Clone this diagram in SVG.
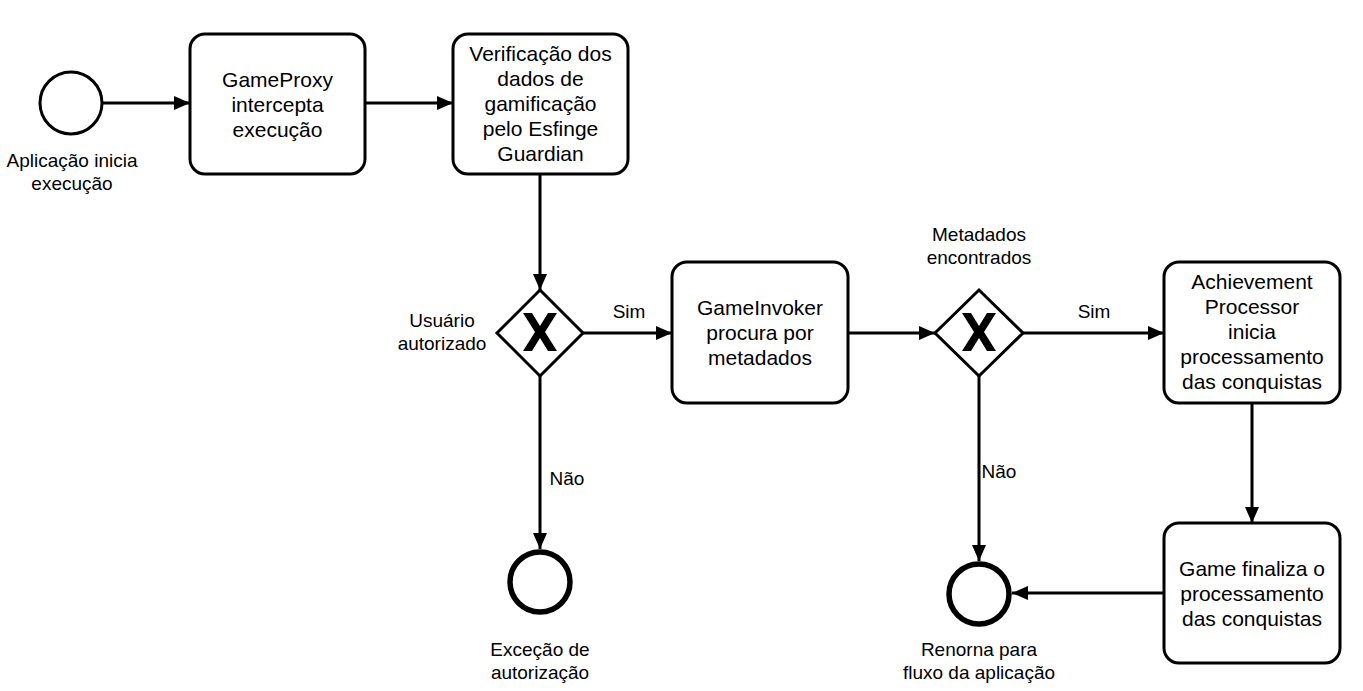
<svg xmlns="http://www.w3.org/2000/svg" width="1363" height="691" viewBox="0 0 1363 691">
<style>
.task{fill:#fff;stroke:#000;stroke-width:3}
.start{fill:#fff;stroke:#000;stroke-width:3}
.end{fill:#fff;stroke:#000;stroke-width:5.5}
.gw{fill:#fff;stroke:#000;stroke-width:3}
.edge{fill:none;stroke:#000;stroke-width:3}
.t{font-family:"Liberation Sans",Arial,sans-serif;font-size:21px;fill:#000;text-anchor:middle}
.l{font-family:"Liberation Sans",Arial,sans-serif;font-size:19px;fill:#000;text-anchor:middle}
</style>
<defs>
<marker id="arr" viewBox="0 0 16 14" refX="16" refY="7" markerWidth="16" markerHeight="14" markerUnits="userSpaceOnUse" orient="auto">
<path d="M0,0 L16,7 L0,14 Z" fill="#000"/>
</marker>
<path id="xmark" d="M-17,-19 L-8,-19 L0,-6 L8,-19 L17,-19 L5,0 L17,19 L8,19 L0,6 L-8,19 L-17,19 L-5,0 Z" fill="#000"/>
</defs>
<g id="connectors">
<path class="edge" d="M103,103 L190,103" marker-end="url(#arr)"/>
<path class="edge" d="M365,103 L453,103" marker-end="url(#arr)"/>
<path class="edge" d="M540,174 L540,290" marker-end="url(#arr)"/>
<path class="edge" d="M583,333 L672,333" marker-end="url(#arr)"/>
<path class="edge" d="M540,376 L540,549" marker-end="url(#arr)"/>
<path class="edge" d="M848,333 L935,333" marker-end="url(#arr)"/>
<path class="edge" d="M1023,333 L1164,333" marker-end="url(#arr)"/>
<path class="edge" d="M979,376 L979,561" marker-end="url(#arr)"/>
<path class="edge" d="M1252,403 L1252,523" marker-end="url(#arr)"/>
<path class="edge" d="M1164,593 L1012,593" marker-end="url(#arr)"/>
<text class="l" x="629" y="318">Sim</text>
<text class="l" x="567" y="485">Não</text>
<text class="l" x="1094" y="318">Sim</text>
<text class="l" x="999" y="478">Não</text>
</g>
<g id="start">
<circle class="start" cx="71" cy="103" r="31"/>
<text class="l" x="72" y="167">Aplicação inicia</text>
<text class="l" x="72" y="190">execução</text>
</g>
<g id="task1">
<rect class="task" x="190" y="34" width="175" height="140" rx="15"/>
<text class="t" x="277.5" y="86.5">GameProxy</text>
<text class="t" x="277.5" y="111.5">intercepta</text>
<text class="t" x="277.5" y="136.5">execução</text>
</g>
<g id="task2">
<rect class="task" x="453" y="34" width="175" height="140" rx="15"/>
<text class="t" x="540.5" y="60.5">Verificação dos</text>
<text class="t" x="540.5" y="85.5">dados de</text>
<text class="t" x="540.5" y="110.5">gamificação</text>
<text class="t" x="540.5" y="135.5">pelo Esfinge</text>
<text class="t" x="540.5" y="160.5">Guardian</text>
</g>
<g id="gateway1">
<path class="gw" d="M540,290 L583,333 L540,376 L497,333 Z"/>
<use href="#xmark" x="540" y="332"/>
<text class="l" x="442" y="327">Usuário</text>
<text class="l" x="442" y="350">autorizado</text>
</g>
<g id="end1">
<circle class="end" cx="540" cy="582" r="30"/>
<text class="l" x="540" y="656">Exceção de</text>
<text class="l" x="540" y="679">autorização</text>
</g>
<g id="task3">
<rect class="task" x="672" y="262" width="176" height="141" rx="15"/>
<text class="t" x="760" y="315">GameInvoker</text>
<text class="t" x="760" y="340">procura por</text>
<text class="t" x="760" y="365">metadados</text>
</g>
<g id="gateway2">
<path class="gw" d="M979,290 L1023,333 L979,376 L935,333 Z"/>
<use href="#xmark" x="979" y="332"/>
<text class="l" x="979" y="241">Metadados</text>
<text class="l" x="979" y="264">encontrados</text>
</g>
<g id="task4">
<rect class="task" x="1164" y="262" width="176" height="141" rx="15"/>
<text class="t" x="1252" y="288.5">Achievement</text>
<text class="t" x="1252" y="313.5">Processor</text>
<text class="t" x="1252" y="338.5">inicia</text>
<text class="t" x="1252" y="363.5">processamento</text>
<text class="t" x="1252" y="388.5">das conquistas</text>
</g>
<g id="task5">
<rect class="task" x="1164" y="523" width="176" height="140" rx="15"/>
<text class="t" x="1252" y="575.5">Game finaliza o</text>
<text class="t" x="1252" y="600.5">processamento</text>
<text class="t" x="1252" y="625.5">das conquistas</text>
</g>
<g id="end2">
<circle class="end" cx="979" cy="594" r="30"/>
<text class="l" x="979" y="656">Renorna para</text>
<text class="l" x="979" y="679">fluxo da aplicação</text>
</g>
</svg>
